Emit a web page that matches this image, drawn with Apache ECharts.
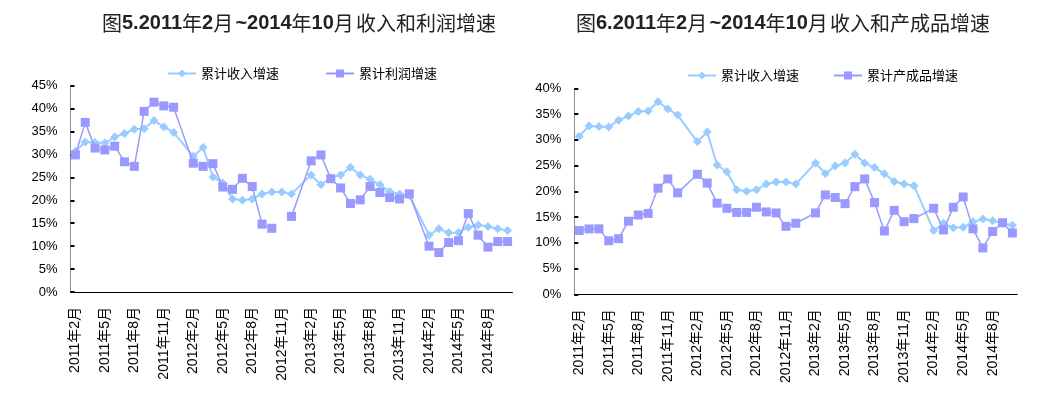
<!DOCTYPE html>
<html>
<head>
<meta charset="utf-8">
<script src="https://cdn.jsdelivr.net/npm/echarts@6/dist/echarts.min.js"></script>
<style>
html,body{margin:0;padding:0;background:#fff;}
#chart{width:1054px;height:398px;}
</style>
</head>
<body>
<div id="chart"></div>
<script>
// 45 monthly categories, 2011年2月 ~ 2014年10月 (January not reported)
const categories = [
 '2011年2月','2011年3月','2011年4月','2011年5月','2011年6月','2011年7月','2011年8月','2011年9月','2011年10月','2011年11月','2011年12月',
 '2012年1月','2012年2月','2012年3月','2012年4月','2012年5月','2012年6月','2012年7月','2012年8月','2012年9月','2012年10月','2012年11月','2012年12月',
 '2013年1月','2013年2月','2013年3月','2013年4月','2013年5月','2013年6月','2013年7月','2013年8月','2013年9月','2013年10月','2013年11月','2013年12月',
 '2014年1月','2014年2月','2014年3月','2014年4月','2014年5月','2014年6月','2014年7月','2014年8月','2014年9月','2014年10月'
];
// 累计收入增速 (%)
const incomeGrowth = [
 30.7,32.7,32.6,32.5,33.8,34.6,35.5,35.6,37.4,36.0,34.8,
 null,29.6,31.5,25.1,23.8,20.3,20.0,20.3,21.4,21.8,21.8,21.4,
 null,25.5,23.4,24.9,25.5,27.2,25.5,24.6,23.4,21.9,21.4,21.1,
 null,12.4,13.8,12.9,13.0,14.1,14.6,14.3,13.8,13.4
];
// 累计利润增速 (%)
const profitGrowth = [
 29.9,37.0,31.4,31.0,31.8,28.4,27.4,39.4,41.4,40.6,40.3,
 null,28.1,27.4,28.0,22.9,22.4,24.8,23.0,14.8,13.9,null,16.5,
 null,28.6,29.9,24.7,22.7,19.3,20.1,23.0,21.7,20.6,20.3,21.4,
 null,10.0,8.6,10.8,11.2,17.1,12.4,9.8,11.0,11.0
];
// 累计产成品增速 (%)
const inventoryGrowth = [
 12.4,12.7,12.7,10.4,10.8,14.2,15.4,15.7,20.6,22.4,19.7,
 null,23.3,21.6,17.7,16.7,15.9,15.9,16.9,16.0,15.8,13.2,13.8,
 null,15.8,19.3,18.8,17.6,20.9,22.4,17.8,12.3,16.3,14.1,14.7,
 null,16.7,12.5,16.9,18.9,12.7,9.0,12.2,13.9,11.9
];
const leftTicksMax = 45, rightTicksMax = 40, tickStep = 5;

// January months are not reported: skip them (line continues across);
// other missing values break the line.
function toPairs(values){
  const out = [];
  values.forEach((v,i)=>{
    if (categories[i].endsWith('年1月')) return;
    out.push([i, v == null ? '-' : v]);
  });
  return out;
}

const CJK = '"Noto Sans CJK SC", sans-serif';
const LAT = '"Liberation Sans", Arial, "Noto Sans CJK SC", sans-serif';

const richStyles = {
  c: {fontFamily: CJK, fontSize: 20, fontWeight: 'normal', color: '#222'},
  b: {fontFamily: LAT, fontSize: 20, fontWeight: 'bold', color: '#222'},
  s: {fontFamily: LAT, fontSize: 8, color: '#222'}
};

function xAxis(gridIndex){
  return {
    type: 'category', gridIndex, data: categories, boundaryGap: true,
    axisLine: {lineStyle: {color: '#000', width: 1}},
    axisTick: {inside: true, length: 4, interval: 2, lineStyle: {color: '#000'}},
    axisLabel: {interval: 2, rotate: 90, margin: 15, fontSize: 14, color: '#000', fontFamily: LAT},
    splitLine: {show: false}
  };
}
function yAxis(gridIndex, max){
  return {
    type: 'value', gridIndex, min: 0, max: max, interval: tickStep,
    axisLine: {show: true, lineStyle: {color: '#8c8c8c', width: 1}},
    axisTick: {show: true, inside: true, length: 4, lineStyle: {color: '#000', width: 2}},
    axisLabel: {formatter: '{value}%', fontSize: 13, color: '#000', margin: 13, fontFamily: LAT},
    splitLine: {show: false}
  };
}
function incomeSeries(idx){
  return {
    name: '累计收入增速', type: 'line', xAxisIndex: idx, yAxisIndex: idx,
    data: toPairs(incomeGrowth), symbol: 'diamond', symbolSize: 9, showAllSymbol: true,
    lineStyle: {color: '#99CCFF', width: 2}, itemStyle: {color: '#99CCFF'},
    connectNulls: false, z: 2
  };
}
function squareSeries(name, values, idx){
  return {
    name, type: 'line', xAxisIndex: idx, yAxisIndex: idx,
    data: toPairs(values), symbol: 'rect', symbolSize: 9, showAllSymbol: true,
    lineStyle: {color: '#9999FF', width: 1.5}, itemStyle: {color: '#9999FF'},
    connectNulls: false, z: 3
  };
}

const chart = echarts.init(document.getElementById('chart'));
chart.setOption({
  animation: false,
  backgroundColor: '#fff',
  title: [
    {left: 97, top: 8, text: '{c|图}{b|5.2011}{c|年}{b|2}{c|月}{s| }{b|~2014}{c|年}{b|10}{c|月}{s| }{c|收入和利润增速}',
     textStyle: {rich: richStyles}},
    {left: 571, top: 8, text: '{c|图}{b|6.2011}{c|年}{b|2}{c|月}{s| }{b|~2014}{c|年}{b|10}{c|月}{s| }{c|收入和产成品增速}',
     textStyle: {rich: richStyles}}
  ],
  legend: [
    {left: 162, top: 62, itemWidth: 28, itemHeight: 10, itemGap: 46,
     textStyle: {fontSize: 13, fontFamily: CJK, color: '#000'},
     data: ['累计收入增速', '累计利润增速']},
    {left: 682, top: 64, itemWidth: 28, itemHeight: 10, itemGap: 34,
     textStyle: {fontSize: 13, fontFamily: CJK, color: '#000'},
     data: ['累计收入增速', '累计产成品增速']}
  ],
  grid: [
    {left: 70.5, top: 85.7, width: 442, height: 206.3},
    {left: 574.3, top: 88.3, width: 443, height: 206}
  ],
  xAxis: [xAxis(0), xAxis(1)],
  yAxis: [yAxis(0, leftTicksMax), yAxis(1, rightTicksMax)],
  series: [
    incomeSeries(0),
    squareSeries('累计利润增速', profitGrowth, 0),
    incomeSeries(1),
    squareSeries('累计产成品增速', inventoryGrowth, 1)
  ]
});
</script>
</body>
</html>
